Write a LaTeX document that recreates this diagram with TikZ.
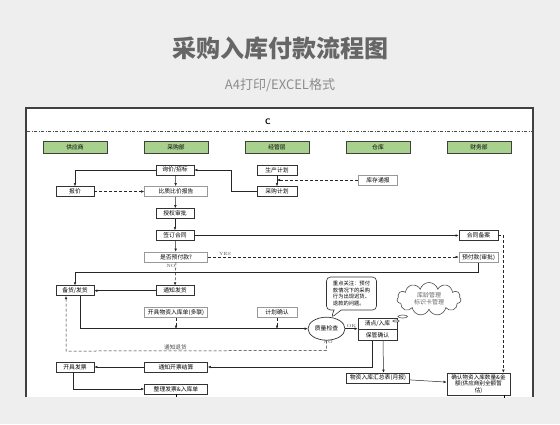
\documentclass[tikz,border=0pt]{standalone}
\usepackage{fontspec}
\newfontfamily\cjk{Noto Sans CJK SC}
\usetikzlibrary{calc,positioning,arrows.meta,shapes.geometric,shapes.callouts,shapes.symbols}

\definecolor{latar}{HTML}{EEEEEE}
\definecolor{hijau}{HTML}{A9D18E}
\newcommand{\kecil}{\cjk\fontsize{5.8}{6.6}\selectfont}

\tikzset{
  lajur/.style={draw=black!75, fill=hijau, line width=0.8pt, minimum width=64, minimum height=11.5, inner sep=0, font=\kecil},
  kotak/.style={draw=black!80, fill=white, line width=0.7pt, minimum width=38, minimum height=10, inner sep=0, font=\kecil},
  lebar/.style={kotak, minimum width=63},
  abu/.style={draw=black!40},
  panah/.style={-{Latex[length=3pt,width=2.6pt]}, line width=0.5pt, black!85},
  putus/.style={panah, densely dashed},
  ket/.style={font=\fontsize{4.5}{5}\selectfont, inner sep=1pt, black!70}
}

\begin{document}
\begin{tikzpicture}[x=1pt,y=-1pt]

% latar dan panel
\useasboundingbox (0,0) rectangle (560,424);
\fill[latar] (0,0) rectangle (560,424);
\node[text=black!60, font=\cjk\bfseries\fontsize{24}{28}\selectfont] (judul) at (280,48) {采购入库付款流程图};
\node[text=black!45, font=\cjk\fontsize{13}{15}\selectfont] (subjudul) at (280,85) {A4打印/EXCEL格式};
\fill[white] (26,108) rectangle (533,397);
\draw[black!75, line width=1.6pt] (26,397) -- (26,108) -- (533,108) -- (533,397);
\node[font=\sffamily\bfseries\fontsize{8}{9}\selectfont] (huruf) at (268,122) {C};
\draw[black!70, line width=0.7pt, dash pattern=on 3pt off 1.5pt on 1pt off 1.5pt] (27,131) -- (532,131);

% lajur
\node[lajur] (gys) at (75,147.5) {供应商};
\node[lajur] (cgb) at (176,147.5) {采购部};
\node[lajur] (jgc) at (277,147.5) {经管层};
\node[lajur] (ck) at (378,147.5) {仓库};
\node[lajur] (cwb) at (479,147.5) {财务部};

% kotak-kotak proses
\node[kotak] (xunjia) at (175,170) {询价/招标};
\node[kotak] (baojia) at (75,191.5) {报价};
\node[lebar, abu] (bizhi) at (176,191.5) {比质比价报告};
\node[kotak] (shouquan) at (175,213.5) {授权审批};
\node[kotak] (qianding) at (175,235.5) {签订合同};
\node[lebar, abu] (yufu) at (176,257) {是否预付款?};
\node[kotak, minimum width=40] (shengchan) at (277,170) {生产计划};
\node[kotak, minimum width=40] (caigou) at (277,191.5) {采购计划};
\node[kotak, abu, minimum width=39] (kucun) at (378,180) {库存通报};
\node[kotak, minimum width=39] (hetong) at (478.5,235) {合同备案};
\node[kotak, abu, minimum width=39] (yufukuan) at (478.5,257.5) {预付款(审批)};
\node[kotak] (beihuo) at (75,290.7) {备货/发货};
\node[kotak] (tongzhi) at (175,290.7) {通知发货};
\node[lebar, abu] (kaiju) at (176,312.5) {开具物资入库单(多联)};
\node[kotak, abu, minimum width=40] (jihua) at (277,312.5) {计划确认};
\node[ellipse, draw=black!80, fill=white, line width=0.7pt, minimum width=37, minimum height=23, inner sep=0, font=\kecil] (zhiliang) at (326.5,328.7) {质量检查};
\node[kotak, minimum width=39, minimum height=11] (qingdian) at (377.5,323.5) {清点/入库};
\node[kotak, minimum width=39, minimum height=11, below=0pt of qingdian] (baoguan) {保管确认};
\node[lebar] (tongzhikp) at (176,367) {通知开票结算};
\node[kotak] (kaipiao) at (75,367) {开具发票};
\node[lebar] (zhengli) at (176,389) {整理发票\&入库单};
\node[kotak, minimum width=63] (huizong) at (378,378) {物资入库汇总表(月报)};
\node[kotak, minimum width=63, minimum height=22, align=center, font=\cjk\fontsize{5.6}{6.6}\selectfont] (queren) at (478.5,384) {确认物资入库数量\&金\\额(供应商别全额暂\\估)};

% catatan
\node[rectangle callout, rounded corners=4pt, draw=black!80, fill=white, line width=0.6pt,
  callout absolute pointer={(331,318)}, align=left, inner sep=2pt, minimum width=50, minimum height=33,
  font=\cjk\fontsize{5.3}{6.6}\selectfont] (catatan) at (351.5,293.5)
  {重点关注：预付\\款情况下的采购\\行为出现迟货、\\退款的问题。};
\node[cloud callout, cloud puffs=11, aspect=2, draw=black!70, fill=white, line width=0.6pt,
  callout absolute pointer={(396,321)}, align=center, inner sep=0pt, text=black!60,
  font=\cjk\fontsize{6}{7.4}\selectfont, minimum width=64, minimum height=33] (awan) at (429,299)
  {库龄管理\\标识卡管理};

% penghubung
\draw[panah] (xunjia.west) -| (baojia.north);
\draw[panah] (xunjia) -- (bizhi);
\draw[putus] (baojia) -- (bizhi);
\draw[panah] (caigou.west) -- ($(caigou.west)+(-25,0)$) |- (xunjia.east);
\draw[panah] (shengchan) -- (caigou);
\draw[putus] (kucun.west) -- (kucun.west -| shengchan.south);
\draw[panah] (bizhi) -- (shouquan);
\draw[panah] (shouquan) -- (qianding);
\draw[panah] (qianding) -- (yufu);
\draw[panah] (qianding.east) -- (qianding.east -| hetong.west);
\draw[putus] (yufu.east) -- node[ket, above, pos=0.04, anchor=south west] {YES} (yufu.east -| yufukuan.west);
\draw[putus] (yufu.south) -- node[ket, pos=0.15, left=-1pt] {NO} (tongzhi.north);
\draw[panah] (yufukuan.south) -- ($(yufukuan.south)+(0,9.5)$) -| (beihuo.north);
\draw[panah] (tongzhi) -- (beihuo);
\draw[panah] ($(beihuo.south)+(5,0)$) |- (zhiliang.west);
\draw[putus] (kaiju.south) -- (kaiju.south |- zhiliang.west);
\draw[putus] (jihua.south) -- (jihua.south |- zhiliang.west);
\draw[putus] (zhiliang.south) -- ($(zhiliang.south)+(0,10)$) -- node[ket, above, pos=0.58, font=\cjk\fontsize{5.6}{6}\selectfont] {通知退货} ($(beihuo.south)+(-9,55)$) -- ($(beihuo.south)+(-9,0)$);
\node[ket, below right=-1pt and -4pt of zhiliang.south] (tolak) {NO};
\draw[panah] (zhiliang.east) -- node[ket, above] {OK} (zhiliang.east -| qingdian.west);
\draw[panah] ($(baoguan.south)+(-5.5,0)$) |- (tongzhikp.east);
\draw[panah] (tongzhikp) -- (kaipiao);
\draw[panah] ($(kaipiao.south)+(-2,0)$) |- (zhengli.west);
\draw[line width=0.5pt] (zhengli.south) -- ++(0,2.5);
\draw[panah] ($(baoguan.south)+(5.5,0)$) -- ($(huizong.north)+(5.5,0)$);
\draw[panah] (huizong) -- (queren);
\draw[putus] (hetong.east) -| ($(queren.north east)+(-7,0)$);
\draw[line width=0.5pt] ($(queren.south east)+(-6,0)$) -- ++(0,2.5);

\end{tikzpicture}
\end{document}
